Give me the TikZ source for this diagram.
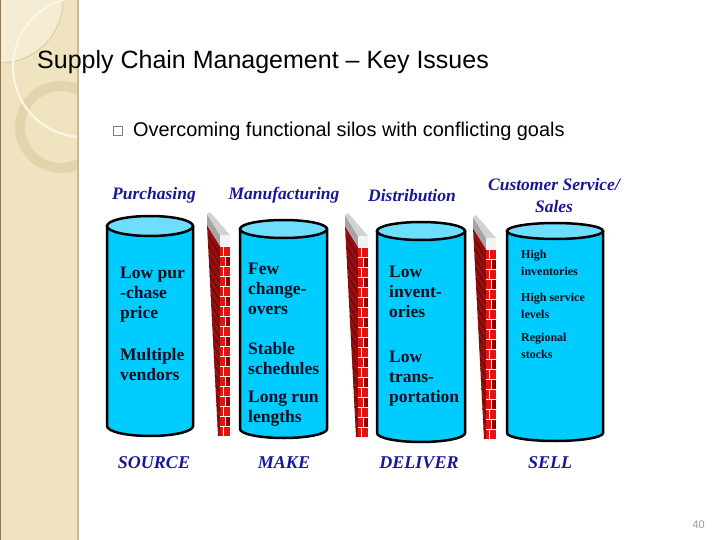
\documentclass[tikz,border=0pt]{standalone}
\usepackage{fontspec}
\setmainfont{Liberation Serif}
\newfontfamily\slidefont{Liberation Sans}
\definecolor{barbeige}{RGB}{240,227,192}
\definecolor{barlight}{RGB}{245,236,212}
\definecolor{barring}{RGB}{228,212,172}
\definecolor{barcream}{RGB}{251,246,230}
\definecolor{baredge}{RGB}{200,186,150}
\definecolor{barbrown}{RGB}{140,120,85}
\definecolor{siloblue}{RGB}{0,204,255}
\definecolor{silotopblue}{RGB}{110,222,255}
\definecolor{headblue}{RGB}{24,24,150}
\definecolor{goalnavy}{RGB}{8,14,30}
\definecolor{brickred}{RGB}{225,20,20}
\definecolor{brickdark}{RGB}{145,0,0}
\definecolor{wallside}{RGB}{150,15,15}
\definecolor{wallline}{RGB}{85,0,0}
\definecolor{capgray}{RGB}{165,165,165}
\definecolor{caplight}{RGB}{210,210,210}
\definecolor{pagegray}{RGB}{160,154,138}

\begin{document}
\begin{tikzpicture}[x=1pt, y=-1pt,
    silo/.style={fill=siloblue},
    rim/.style={draw=black, line width=2.5pt},
    head/.style={font=\bfseries\itshape\fontsize{17.5}{22}\selectfont, text=headblue, align=center},
    stage/.style={font=\bfseries\itshape\fontsize{18}{22}\selectfont, text=headblue},
    goal/.style={font=\bfseries\fontsize{17.5}{20}\selectfont, text=goalnavy, align=left, anchor=north west, inner sep=0pt},
    small goal/.style={goal, font=\bfseries\fontsize{12}{16.5}\selectfont},
    mortar/.style={draw=white, line width=0.8pt}]

  \fill[white] (0,0) rectangle (720,540);
  \useasboundingbox (0,0) rectangle (720,540);

  \fill[barbeige] (0,0) rectangle (78,540);
  \begin{scope}
    \clip (0,0) rectangle (78,540);
    \filldraw[fill=barlight, draw=baredge, line width=0.5pt] (0,0) circle (63);
    \draw[barring, line width=10pt] (61,127) circle (41);
    \draw[barcream, line width=2pt] (83,67) circle (70);
  \end{scope}
  \draw[baredge, line width=1.5pt] (78,0) -- (78,540);
  \draw[barbrown, line width=1pt] (0.5,0) -- (0.5,540);

  \node[anchor=base west, inner sep=0pt, font=\slidefont\fontsize{25}{29}\selectfont] (title) at (37,69) {Supply Chain Management – Key Issues};
  \node[draw=gray, line width=0.7pt, minimum size=9.5pt, inner sep=0pt] (bullet) at (118,131) {};
  \node[anchor=base west, inner sep=0pt, font=\slidefont\fontsize{19.9}{24}\selectfont] (goals) at (133,137) {Overcoming functional silos with conflicting goals};

  \foreach \xl/\xr/\yt/\yb/\ry in {107/193/226/426/10, 240/327/229/429/9, 377/465/231/433/9, 507/603/231/433/8}{
    \pgfmathsetmacro\cx{(\xl+\xr)/2}
    \pgfmathsetmacro\rx{(\xr-\xl)/2}
    \fill[silo] (\xl,\yt) -- (\xl,\yb) arc[start angle=180, end angle=0, x radius=\rx, y radius=\ry] -- (\xr,\yt) -- cycle;
    \draw[rim] (\xl,\yt) -- (\xl,\yb) arc[start angle=180, end angle=0, x radius=\rx, y radius=\ry] -- (\xr,\yt);
    \filldraw[fill=silotopblue, rim] (\cx,\yt) ellipse[x radius=\rx, y radius=\ry];
  }

  \foreach \wx/\wy in {207/213, 345/214, 473/216}{
    \begin{scope}[shift={(\wx,\wy)}]
      \begin{scope}
        \clip (0,12) -- (13,33) -- (13,223) -- (11,223) -- cycle;
        \fill[wallside] (0,12) rectangle (13,223);
        \foreach \yl in {22,32,...,222}
          \draw[wallline, line width=0.6pt] ({(\yl-12)*0.0524},\yl) -- (13,{\yl+21-(\yl-12)*0.0846});
      \end{scope}
      \foreach \k in {0,...,18}{
        \pgfmathsetmacro\yy{33+10*\k}
        \pgfmathsetmacro\jx{isodd(\k) ? 18 : 16}
        \fill[brickred] (13,\yy) rectangle (23,\yy+10);
        \ifodd\k \fill[brickdark] (\jx,\yy) rectangle (23,\yy+10); \fi
        \draw[mortar] (13,\yy) -- (23,\yy);
        \draw[mortar] (\jx,\yy) -- (\jx,\yy+10);
      }
      \fill[capgray] (0,1) -- (13,22) -- (13,33) -- (0,12) -- cycle;
      \fill[caplight] (0,1) -- (3,-1) -- (23,22) -- (13,22) -- cycle;
      \fill[white!90!gray] (13,22) rectangle (23,33);
    \end{scope}
  }

  \node[head] (purch) at (154,195) {Purchasing};
  \node[head] (manuf) at (284,195) {Manufacturing};
  \node[head] (distr) at (412,196) {Distribution};
  \node[head] (custsvc) at (554,196) {Customer Service/\\Sales};

  \node[goal] (lowprice) at (120,267) {Low pur\\-chase\\price};
  \node[goal] (vendors) at (120,348) {Multiple\\vendors};
  \node[goal] (changeovers) at (248,263) {Few\\change-\\overs};
  \node[goal] (schedules) at (248,342) {Stable\\schedules};
  \node[goal] (runlengths) at (248,391) {Long run\\lengths};
  \node[goal] (inventories) at (389,266) {Low\\invent-\\ories};
  \node[goal] (transport) at (389,351) {Low\\trans-\\portation};
  \node[small goal] (highinv) at (521,250) {High\\inventories};
  \node[small goal] (service) at (521,293) {High service\\levels};
  \node[small goal] (stocks) at (521,333) {Regional\\stocks};

  \node[stage] (source) at (154,463) {SOURCE};
  \node[stage] (make) at (284,463) {MAKE};
  \node[stage] (deliver) at (419,463) {DELIVER};
  \node[stage] (sell) at (550,463) {SELL};

  \node[anchor=base east, inner sep=0pt, text=pagegray, font=\slidefont\fontsize{11}{13}\selectfont] (pagenum) at (705,528) {40};
\end{tikzpicture}
\end{document}
